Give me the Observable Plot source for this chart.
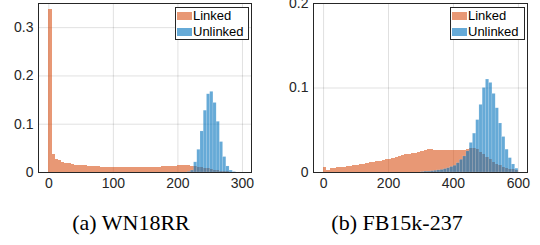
<!DOCTYPE html>
<html>
<head>
<meta charset="utf-8">
<script src="https://cdn.jsdelivr.net/npm/d3@7"></script>
<script src="https://cdn.jsdelivr.net/npm/@observablehq/plot@0.6"></script>
<style>
  html, body { margin: 0; padding: 0; background: #fff; }
  #wrap { position: relative; width: 540px; height: 245px; overflow: hidden; }
  .panel { position: absolute; top: 0; }
  .legend { position: absolute; box-sizing: border-box; border: 1px solid #262626; background: #fff;
            font-family: "Liberation Sans", Arial, sans-serif; font-size: 13px; color: #000; }
  .row { position: absolute; left: 1px; height: 16px; line-height: 16px; display: flex; align-items: center; white-space: nowrap; }
  .sw { width: 15px; height: 8px; margin-right: 1px; }
  .cap { position: absolute; top: 212px; font-family: "Liberation Serif", "Times New Roman", serif;
         font-size: 22px; line-height: 22px; color: #000; white-space: nowrap; transform: translateX(-50%); }
</style>
</head>
<body>
<div id="wrap"></div>
<script>
// ---- data ----
const seriesNames = ["Linked", "Unlinked"];
const captions = ["(a) WN18RR", "(b) FB15k-237"];

// WN18RR: bin width 5
const wnBinWidth = 5;
const wnLinkedStart = 0;
const wnLinked = [0.338, 0.037, 0.027, 0.024, 0.021, 0.019, 0.018, 0.016, 0.015, 0.0145,
  0.014, 0.0135, 0.013, 0.0125, 0.012, 0.0115, 0.011, 0.0105, 0.0102, 0.010,
  0.0099, 0.0097, 0.0096, 0.0096, 0.0096, 0.0097, 0.0098, 0.0099, 0.010, 0.0102,
  0.0104, 0.0106, 0.0108, 0.011, 0.0113, 0.0116, 0.012, 0.0124, 0.0128, 0.0132,
  0.0136, 0.0138, 0.0139, 0.0138, 0.0134, 0.0125, 0.011, 0.0097, 0.0085, 0.0073,
  0.006, 0.005, 0.004, 0.003, 0.002, 0.0012, 0.0006, 0.0002];
const wnUnlinkedStart = 215;
const wnUnlinked = [0.001, 0.004, 0.021, 0.047, 0.085, 0.128, 0.162, 0.167, 0.144, 0.105,
  0.063, 0.032, 0.0125, 0.004, 0.001];
const wnXTicks = [0, 100, 200, 300];
const wnYTicks = [0, 0.1, 0.2, 0.3];

// FB15k-237: bin width 10
const fbBinWidth = 10;
const fbLinkedStart = 0;
const fbLinked = [0.006, 0.002, 0.0044, 0.005, 0.0055, 0.006, 0.0065, 0.007, 0.0075, 0.008,
  0.0085, 0.0095, 0.010, 0.0108, 0.0115, 0.012, 0.0125, 0.013, 0.014, 0.015,
  0.0158, 0.017, 0.018, 0.019, 0.020, 0.021, 0.0215, 0.022, 0.023, 0.024,
  0.025, 0.026, 0.027, 0.027, 0.026, 0.0265, 0.026, 0.026, 0.026, 0.026,
  0.026, 0.026, 0.026, 0.026, 0.027, 0.028, 0.028, 0.027, 0.024, 0.021,
  0.018, 0.015, 0.012, 0.010, 0.008, 0.006, 0.005, 0.004, 0.003, 0.002];
const fbUnlinkedStart = 300;
const fbUnlinked = [0.0005, 0.001, 0.001, 0.0015, 0.002, 0.0025, 0.003, 0.004, 0.005, 0.0065,
  0.008, 0.011, 0.015, 0.019, 0.025, 0.035, 0.046, 0.062, 0.080, 0.100,
  0.110, 0.106, 0.093, 0.076, 0.058, 0.042, 0.027, 0.017, 0.0095, 0.0045];
const fbXTicks = [0, 200, 400, 600];
const fbYTicks = [0, 0.1, 0.2];

const colors = ["#D95319", "#0072BD"];

function bins(values, start, width) {
  return values.map((v, i) => ({x1: start + i * width, x2: start + (i + 1) * width, y: v}));
}

const fmt = d => String(d);
const wrap = document.getElementById("wrap");

function panel({left, xDomain, yDomain, xTicks, yTicks, linked, unlinked, marginLeft, marginRight}) {
  const chart = Plot.plot({
    width: 270,
    height: 190,
    marginTop: 3,
    marginBottom: 18,
    marginLeft,
    marginRight,
    style: {fontFamily: "'Liberation Sans', Arial, sans-serif", fontSize: "14px", color: "#262626", background: "#fff"},
    x: {domain: xDomain, axis: null},
    y: {domain: yDomain, axis: null},
    marks: [
      Plot.gridX(xTicks, {stroke: "#000", strokeOpacity: 0.12}),
      Plot.gridY(yTicks, {stroke: "#000", strokeOpacity: 0.12}),
      Plot.rectY(linked, {x1: "x1", x2: "x2", y: "y", fill: colors[0], fillOpacity: 0.6, shapeRendering: "crispEdges"}),
      Plot.rectY(unlinked, {x1: "x1", x2: "x2", y: "y", fill: colors[1], fillOpacity: 0.6,
        stroke: "#fff", strokeOpacity: 0.25, strokeWidth: 0.5}),
      Plot.frame({stroke: "#262626", strokeWidth: 1}),
      Plot.axisX(xTicks, {tickSize: 0, tickPadding: 6, label: null, fill: "#262626", tickFormat: fmt}),
      Plot.axisY(yTicks, {tickSize: 0, tickPadding: 5, label: null, fill: "#262626", tickFormat: fmt})
    ]
  });
  chart.classList.add("panel");
  chart.style.left = left + "px";
  wrap.appendChild(chart);
}

panel({left: 0, xDomain: [-16, 314], yDomain: [0, 0.35], xTicks: wnXTicks, yTicks: wnYTicks,
  linked: bins(wnLinked, wnLinkedStart, wnBinWidth), unlinked: bins(wnUnlinked, wnUnlinkedStart, wnBinWidth),
  marginLeft: 38, marginRight: 19});
panel({left: 270, xDomain: [-31, 628], yDomain: [0, 0.2], xTicks: fbXTicks, yTicks: fbYTicks,
  linked: bins(fbLinked, fbLinkedStart, fbBinWidth), unlinked: bins(fbUnlinked, fbUnlinkedStart, fbBinWidth),
  marginLeft: 43, marginRight: 13});

function legend(left, width) {
  const lg = document.createElement("div");
  lg.className = "legend";
  lg.style.left = left + "px";
  lg.style.top = "7px";
  lg.style.width = width + "px";
  lg.style.height = "33px";
  seriesNames.forEach((name, i) => {
    const row = document.createElement("div");
    row.className = "row";
    row.style.top = (i === 0 ? 0 : 16) + "px";
    const sw = document.createElement("div");
    sw.className = "sw";
    sw.style.background = colors[i];
    sw.style.opacity = 0.6;
    const t = document.createElement("span");
    t.textContent = name;
    row.appendChild(sw);
    row.appendChild(t);
    lg.appendChild(row);
  });
  wrap.appendChild(lg);
}
legend(175, 74);
legend(450, 75);

[[131, captions[0]], [397, captions[1]]].forEach(([cx, text]) => {
  const c = document.createElement("div");
  c.className = "cap";
  c.style.left = cx + "px";
  c.textContent = text;
  wrap.appendChild(c);
});
</script>
</body>
</html>
